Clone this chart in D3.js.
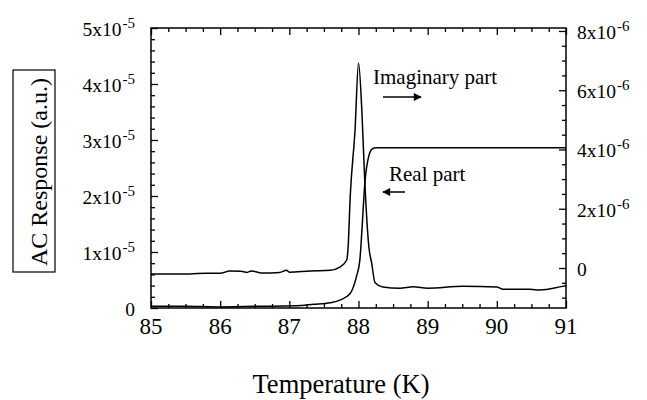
<!DOCTYPE html>
<html>
<head>
<meta charset="utf-8">
<script src="https://cdn.jsdelivr.net/npm/d3@7"></script>
<style>
  body { margin: 0; background: #fff; }
  svg { display: block; }
  text { font-family: "Liberation Serif", "Times New Roman", serif; fill: #000; }
</style>
</head>
<body>
<svg id="chart" width="647" height="400"></svg>
<script>
// Real part (left axis, units of 1e-5)
const realT = [85.0, 85.5, 85.95, 86.53, 87.1, 87.35, 87.59, 87.73, 87.88, 87.97, 88.02, 88.05, 88.09, 88.15, 88.2, 88.25, 89.0, 90.0, 91.0];
const realV = [0.03, 0.03, 0.02, 0.03, 0.04, 0.066, 0.095, 0.14, 0.26, 0.56, 0.86, 1.4, 2.2, 2.72, 2.84, 2.86, 2.86, 2.86, 2.86];

// Imaginary part (right axis, units of 1e-6)
const imagT = [85.0, 85.42, 85.8, 86.0, 86.14, 86.3, 86.39, 86.45, 86.5, 86.62, 86.86, 86.96, 87.0, 87.3, 87.59, 87.73, 87.83, 87.85, 87.88, 87.95, 88.0, 88.05, 88.09, 88.15, 88.19, 88.24, 88.35, 88.6, 88.79, 89.0, 89.51, 90.0, 90.09, 90.48, 90.62, 90.95, 91.0];
const imagV = [-0.2, -0.2, -0.18, -0.18, -0.1, -0.11, -0.15, -0.1, -0.12, -0.17, -0.15, -0.08, -0.14, -0.1, -0.08, 0.03, 0.27, 0.71, 2.4, 4.66, 6.92, 5.23, 2.97, 0.71, 0.17, -0.5, -0.64, -0.68, -0.63, -0.68, -0.62, -0.64, -0.72, -0.72, -0.74, -0.62, -0.6];

const xTicks = [85, 86, 87, 88, 89, 90, 91];
const leftTicks = [0, 1, 2, 3, 4, 5];
const rightTicks = [0, 2, 4, 6, 8];

const margin = { top: 28, right: 81, bottom: 92, left: 151 };
const width = 647 - margin.left - margin.right;
const height = 400 - margin.top - margin.bottom;

const svg = d3.select("#chart");
const g = svg.append("g").attr("transform", `translate(${margin.left},${margin.top})`);

const x = d3.scaleLinear().domain([85, 91]).range([0, width]);
const yL = d3.scaleLinear().domain([0, 5]).range([height, 0]);
const yR = d3.scaleLinear().domain([-1.35, 8.1]).range([height, 0]);

const xMinor = d3.range(85, 91.001, 0.25).filter(v => Math.abs(v - Math.round(v)) > 1e-6);
const lMinor = d3.range(0, 5.001, 0.2).filter(v => Math.abs(v - Math.round(v)) > 1e-6);
const rMinor = d3.range(-1, 8.01, 0.5).filter(v => Math.abs(v / 2 - Math.round(v / 2)) > 1e-6);

function tickGroup(axis, transform) {
    const a = g.append("g").attr("transform", transform).call(axis);
    a.select(".domain").remove();
    a.selectAll("text").remove();
    a.selectAll("line").attr("stroke", "#000").attr("stroke-width", 1.3);
}

// bottom and top ticks (inward)
tickGroup(d3.axisBottom(x).tickValues(xTicks).tickSize(-7).tickSizeOuter(0), `translate(0,${height})`);
tickGroup(d3.axisBottom(x).tickValues(xMinor).tickSize(-4).tickSizeOuter(0), `translate(0,${height})`);
tickGroup(d3.axisTop(x).tickValues(xTicks).tickSize(-7).tickSizeOuter(0), "translate(0,0)");
tickGroup(d3.axisTop(x).tickValues(xMinor).tickSize(-4).tickSizeOuter(0), "translate(0,0)");
// left ticks
tickGroup(d3.axisLeft(yL).tickValues(leftTicks).tickSize(-7).tickSizeOuter(0), "translate(0,0)");
tickGroup(d3.axisLeft(yL).tickValues(lMinor).tickSize(-4).tickSizeOuter(0), "translate(0,0)");
// right ticks
tickGroup(d3.axisRight(yR).tickValues(rightTicks).tickSize(-7).tickSizeOuter(0), `translate(${width},0)`);
tickGroup(d3.axisRight(yR).tickValues(rMinor).tickSize(-4).tickSizeOuter(0), `translate(${width},0)`);

// frame
g.append("rect")
    .attr("width", width)
    .attr("height", height)
    .attr("fill", "none")
    .attr("stroke", "#000")
    .attr("stroke-width", 1.5);

// x tick labels
g.selectAll(".xlab")
    .data(xTicks)
    .join("text")
    .attr("class", "xlab")
    .attr("x", d => x(d))
    .attr("y", height + 26)
    .attr("text-anchor", "middle")
    .attr("font-size", 23)
    .text(d => d);

// left tick labels
const lLab = g.selectAll(".llab")
    .data(leftTicks)
    .join("text")
    .attr("class", "llab")
    .attr("x", -16)
    .attr("y", d => yL(d) + 8)
    .attr("text-anchor", "end")
    .attr("font-size", 19.5);
lLab.each(function(d) {
    const t = d3.select(this);
    if (d === 0) { t.text("0"); return; }
    t.append("tspan").text(`${d}x10`);
    t.append("tspan").attr("dy", -8).attr("dx", 1).attr("font-size", 15).text("-5");
});

// right tick labels
const rLab = g.selectAll(".rlab")
    .data(rightTicks)
    .join("text")
    .attr("class", "rlab")
    .attr("x", width + 11)
    .attr("y", d => yR(d) + 8)
    .attr("text-anchor", "start")
    .attr("font-size", 19.5);
rLab.each(function(d) {
    const t = d3.select(this);
    if (d === 0) { t.text("0"); return; }
    t.append("tspan").text(`${d}x10`);
    t.append("tspan").attr("dy", -8).attr("dx", 1).attr("font-size", 15).text("-6");
});

// curves
const realData = realT.map((t, i) => ({ t, v: realV[i] }));
const imagData = imagT.map((t, i) => ({ t, v: imagV[i] }));

g.append("path")
    .datum(realData)
    .attr("fill", "none")
    .attr("stroke", "#000")
    .attr("stroke-width", 1.5)
    .attr("d", d3.line().x(d => x(d.t)).y(d => yL(d.v)).curve(d3.curveMonotoneX));

g.append("path")
    .datum(imagData)
    .attr("fill", "none")
    .attr("stroke", "#000")
    .attr("stroke-width", 1.5)
    .attr("d", d3.line().x(d => x(d.t)).y(d => yR(d.v)).curve(d3.curveMonotoneX));

// annotations
svg.append("defs").append("marker")
    .attr("id", "head")
    .attr("viewBox", "0 0 10 10")
    .attr("refX", 9).attr("refY", 5)
    .attr("markerWidth", 10).attr("markerHeight", 8)
    .attr("markerUnits", "userSpaceOnUse")
    .attr("orient", "auto")
    .append("path").attr("d", "M0,0L10,5L0,10Z").attr("fill", "#000");

svg.append("text").attr("x", 373).attr("y", 84).attr("font-size", 21).text("Imaginary part");
svg.append("line").attr("x1", 383).attr("y1", 97).attr("x2", 421).attr("y2", 97)
    .attr("stroke", "#000").attr("stroke-width", 1.5).attr("marker-end", "url(#head)");

svg.append("text").attr("x", 389).attr("y", 181).attr("font-size", 21).text("Real part");
svg.append("line").attr("x1", 405).attr("y1", 192).attr("x2", 383).attr("y2", 192)
    .attr("stroke", "#000").attr("stroke-width", 1.5).attr("marker-end", "url(#head)");

// axis titles
svg.append("text")
    .attr("x", 341).attr("y", 393)
    .attr("text-anchor", "middle")
    .attr("font-size", 26.5)
    .text("Temperature (K)");

svg.append("rect")
    .attr("x", 13).attr("y", 70)
    .attr("width", 42).attr("height", 202)
    .attr("fill", "none").attr("stroke", "#000").attr("stroke-width", 1.2);

svg.append("text")
    .attr("transform", "translate(47,172) rotate(-90)")
    .attr("text-anchor", "middle")
    .attr("font-size", 24)
    .text("AC Response (a.u.)");
</script>
</body>
</html>
